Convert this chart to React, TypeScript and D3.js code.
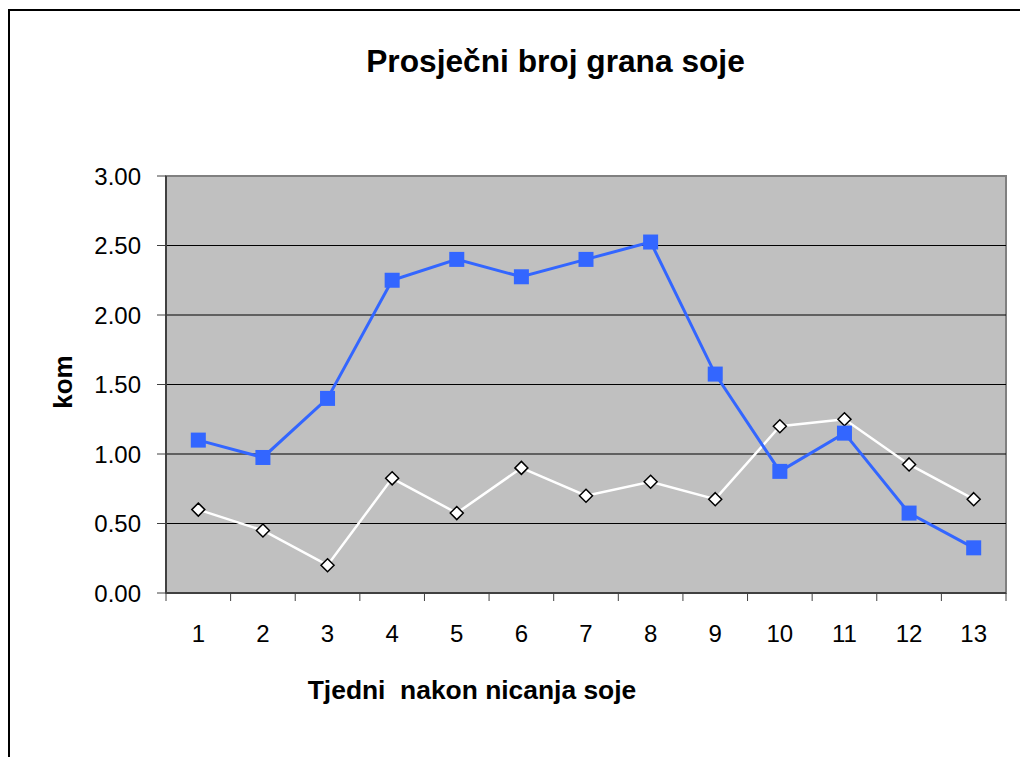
import * as d3 from "d3";

const weeks = ["1", "2", "3", "4", "5", "6", "7", "8", "9", "10", "11", "12", "13"];
const blueValues = [1.1, 0.975, 1.4, 2.25, 2.4, 2.275, 2.4, 2.525, 1.575, 0.875, 1.15, 0.575, 0.325];
const whiteValues = [0.6, 0.45, 0.2, 0.825, 0.575, 0.9, 0.7, 0.8, 0.675, 1.2, 1.25, 0.925, 0.675];
const yTicks = [0, 0.5, 1, 1.5, 2, 2.5, 3];

const width = 1020;
const height = 757;
const plotLeft = 166;
const plotRight = 1006;
const plotTop = 176;
const plotBottom = 593;
const font = "Liberation Sans, Arial, sans-serif";

const App = () => {
	// category axis, points sit in the middle of each band
	const xScale = d3.scaleBand().domain(weeks).range([plotLeft, plotRight]);
	const xMid = (w: string) => (xScale(w) as number) + xScale.bandwidth() / 2;

	const yScale = d3.scaleLinear().domain([0, 3]).range([plotBottom, plotTop]);

	const line = d3
		.line<number>()
		.x((_, i) => xMid(weeks[i]))
		.y((d) => yScale(d));

	const boundaries = weeks.map((w) => xScale(w) as number).concat([plotRight]);

	return (
		<svg
			width={width}
			height={height}
			style={{ position: "absolute", left: 0, top: 0 }}
			fontFamily={font}
		>
			<rect x={0} y={0} width={width} height={height} fill="#fff" />
			{/* outer chart frame, runs off the right and bottom edges */}
			<rect x={9} y={10} width={1100} height={900} fill="none" stroke="#000" strokeWidth={2} />

			<text x={555.5} y={72} textAnchor="middle" fontSize={31.7} fontWeight="bold">
				Prosječni broj grana soje
			</text>

			{/* plot area */}
			<rect
				x={plotLeft}
				y={plotTop}
				width={plotRight - plotLeft}
				height={plotBottom - plotTop}
				fill="#c0c0c0"
				stroke="#808080"
				strokeWidth={2}
			/>

			<g className="grid">
				{yTicks.slice(1, -1).map((t) => (
					<line
						key={t}
						x1={plotLeft}
						x2={plotRight}
						y1={yScale(t)}
						y2={yScale(t)}
						stroke="#000"
						strokeWidth={1}
					/>
				))}
			</g>

			<g className="y-axis">
				<line x1={plotLeft} x2={plotLeft} y1={plotTop} y2={plotBottom} stroke="#404040" strokeWidth={2} />
				{yTicks.map((t) => (
					<g key={t}>
						<line x1={plotLeft - 9} x2={plotLeft} y1={yScale(t)} y2={yScale(t)} stroke="#404040" strokeWidth={1} />
						<text x={141} y={yScale(t) + 8.5} textAnchor="end" fontSize={24}>
							{t.toFixed(2)}
						</text>
					</g>
				))}
			</g>

			<g className="x-axis">
				<line x1={plotLeft} x2={plotRight} y1={plotBottom} y2={plotBottom} stroke="#404040" strokeWidth={2} />
				{boundaries.map((b, i) => (
					<line key={i} x1={b} x2={b} y1={plotBottom} y2={plotBottom + 8} stroke="#404040" strokeWidth={1} />
				))}
				{weeks.map((w) => (
					<text key={w} x={xMid(w)} y={642} textAnchor="middle" fontSize={24}>
						{w}
					</text>
				))}
			</g>

			<text
				transform="translate(72,382) rotate(-90)"
				textAnchor="middle"
				fontSize={26}
				fontWeight="bold"
			>
				kom
			</text>
			<text x={472} y={699} textAnchor="middle" fontSize={26.4} fontWeight="bold" style={{ whiteSpace: "pre" }}>
				Tjedni  nakon nicanja soje
			</text>

			{/* white series with diamonds */}
			<path d={line(whiteValues) ?? ""} fill="none" stroke="#fff" strokeWidth={2.5} />
			{whiteValues.map((v, i) => (
				<path
					key={i}
					d="M0,-6.5L6.5,0L0,6.5L-6.5,0Z"
					transform={`translate(${xMid(weeks[i])},${yScale(v)})`}
					fill="#fff"
					stroke="#000"
					strokeWidth={1.5}
				/>
			))}

			{/* blue series with squares */}
			<path d={line(blueValues) ?? ""} fill="none" stroke="#3366ff" strokeWidth={3} />
			{blueValues.map((v, i) => (
				<rect
					key={i}
					x={xMid(weeks[i]) - 7.5}
					y={yScale(v) - 7.5}
					width={15}
					height={15}
					fill="#3366ff"
				/>
			))}
		</svg>
	);
};

export default App;
